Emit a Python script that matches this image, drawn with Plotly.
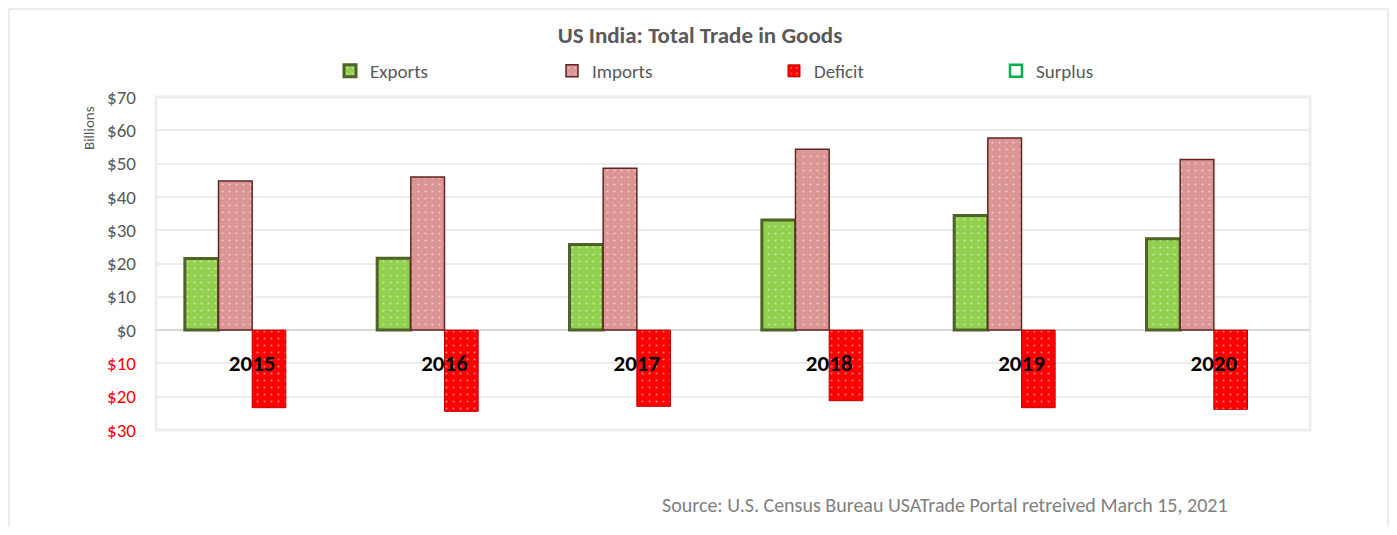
import plotly.graph_objects as go

years = ["2015", "2016", "2017", "2018", "2019", "2020"]
exports = [21.5, 21.6, 25.7, 33.1, 34.4, 27.4]
imports = [44.8, 46.0, 48.6, 54.3, 57.7, 51.2]
deficit = [-23.3, -24.4, -22.9, -21.2, -23.3, -23.8]
surplus = [None, None, None, None, None, None]

tick_vals = [70, 60, 50, 40, 30, 20, 10, 0, -10, -20, -30]
tick_text = ["$70", "$60", "$50", "$40", "$30", "$20", "$10", "$0",
             '<span style="color:#FF0000">$10</span>',
             '<span style="color:#FF0000">$20</span>',
             '<span style="color:#FF0000">$30</span>']

FONT = "Carlito, Lato, sans-serif"
GRAY = "#595959"

def pat(bg):
    return dict(shape=".", fgcolor="white", bgcolor=bg, size=7, solidity=0.07)

fig = go.Figure()
fig.add_trace(go.Bar(name="Exports", x=years, y=exports,
                     marker=dict(color="#92D050", line=dict(color="#4F6228", width=3),
                                 pattern=pat("#92D050"))))
fig.add_trace(go.Bar(name="Imports", x=years, y=imports,
                     marker=dict(color="#D99694", line=dict(color="#632523", width=1.5),
                                 pattern=pat("#D99694"))))
fig.add_trace(go.Bar(name="Deficit", x=years, y=deficit,
                     marker=dict(color="#FF0000", line=dict(color="#C00000", width=1),
                                 pattern=pat("#FF0000"))))
fig.add_trace(go.Bar(name="Surplus", x=years, y=surplus,
                     marker=dict(color="#FFFFFF", line=dict(color="#00B050", width=2.5))))

# page has an 8px body margin; figure coords = page coords - 8
OFF = 8
W, H = 1397 - 2 * OFF, 535 - 2 * OFF
PL, PR, PT, PB = 156, 1310, 97, 430  # plot area in page pixels
L, R, T, B = PL - OFF, W - (PR - OFF), PT - OFF, H - (PB - OFF)
pw, ph = PR - PL, PB - PT

def px_x(p):
    return (p - PL) / pw

def px_y(p):
    return (PB - p) / ph

fig.update_layout(
    width=W, height=H,
    margin=dict(l=L, r=R, t=T, b=B, autoexpand=False),
    paper_bgcolor="white", plot_bgcolor="white",
    barmode="group", bargap=0.3, bargroupgap=0,
    font=dict(family=FONT, color=GRAY, size=16),
    title=dict(text="<b>US India: Total Trade in Goods</b>", xref="paper", x=px_x(700),
               xanchor="center", yref="container", y=1 - (35 - OFF) / H, yanchor="middle",
               font=dict(size=23, color=GRAY, family=FONT)),
    showlegend=True,
    legend=dict(orientation="h", x=px_x(330), xanchor="left", y=px_y(71), yanchor="middle",
                entrywidth=177, entrywidthmode="pixels", bgcolor="rgba(0,0,0,0)",
                font=dict(size=19, color=GRAY, family=FONT), traceorder="normal"),
    xaxis=dict(type="category", anchor="free", position=0.3, showline=False,
               showgrid=False, ticks="", zeroline=False,
               tickfont=dict(size=23, color="black", family=FONT, weight="bold"),
               ticklabelstandoff=17),
    yaxis=dict(range=[-30, 70], tickvals=tick_vals, ticktext=tick_text,
               showgrid=True, gridcolor="#EDEDED", gridwidth=2,
               zeroline=True, zerolinecolor="#D9D9D9", zerolinewidth=2,
               ticks="", ticklabelstandoff=19,
               tickfont=dict(size=19, color=GRAY, family=FONT)),
    shapes=[
        dict(type="rect", xref="paper", yref="paper", x0=0, x1=1, y0=0, y1=1,
             line=dict(color="#EEEEEE", width=3), layer="below"),
        dict(type="rect", xref="paper", yref="paper",
             x0=px_x(OFF + 1), x1=px_x(OFF + W - 1),
             y0=px_y(OFF + H + 20), y1=px_y(OFF + 1),
             line=dict(color="#D9D9D9", width=1), layer="below"),
    ],
    annotations=[
        dict(text="Billions", xref="paper", yref="paper", x=px_x(89), y=px_y(128),
             textangle=-90, showarrow=False, xanchor="center", yanchor="middle",
             font=dict(size=15, color=GRAY, family=FONT)),
        dict(text="Source: U.S. Census Bureau USATrade Portal retreived March 15, 2021",
             xref="paper", yref="paper", x=px_x(660), y=px_y(505), xanchor="left",
             yanchor="middle", showarrow=False,
             font=dict(size=20, color="#808080", family=FONT)),
    ],
)

fig.write_html("out.html")
